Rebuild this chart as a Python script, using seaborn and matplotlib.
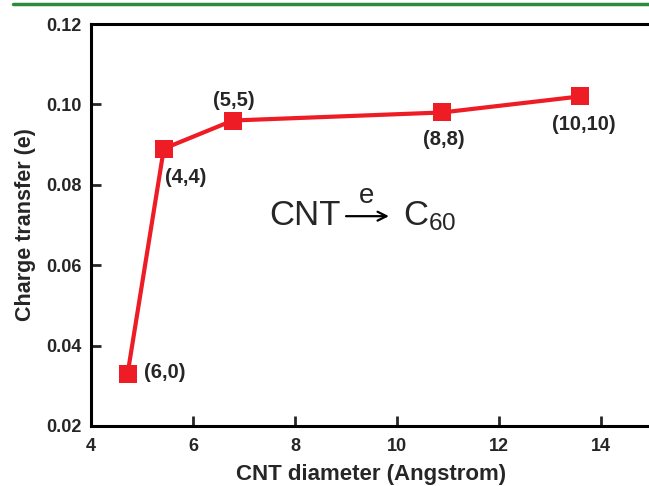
import matplotlib
matplotlib.use("Agg")
import matplotlib.pyplot as plt
import seaborn as sns
import pandas as pd
from matplotlib.lines import Line2D

# data
diameter = [4.72, 5.43, 6.78, 10.88, 13.59]
charge = [0.033, 0.089, 0.096, 0.098, 0.102]
labels = ["(6,0)", "(4,4)", "(5,5)", "(8,8)", "(10,10)"]
label_x = [5.04, 5.45, 6.80, 10.92, 13.65]
label_y = [0.0332, 0.0817, 0.1011, 0.0914, 0.0949]
label_ha = ["left", "left", "center", "center", "center"]

df = pd.DataFrame({"diameter": diameter, "charge": charge})

sns.set_style("ticks")
plt.rcParams["font.family"] = ["Liberation Sans", "DejaVu Sans"]
plt.rcParams["mathtext.fontset"] = "custom"
plt.rcParams["mathtext.rm"] = "Liberation Sans"
plt.rcParams["mathtext.it"] = "Liberation Sans"

fig = plt.figure(figsize=(6.49, 4.86), dpi=100)
ax = fig.add_axes([0.140, 0.1235, 0.865, 0.827])

sns.lineplot(data=df, x="diameter", y="charge", ax=ax, color="#ee1c24",
             linewidth=3, marker="s", markersize=12.5, markeredgewidth=0)

for t, x, y, ha in zip(labels, label_x, label_y, label_ha):
    ax.text(x, y, t, ha=ha, va="center", fontsize=14.5, fontweight="bold")

# CNT -e-> C60
ax.text(8.90, 0.0700, "CNT", ha="right", va="baseline", fontsize=25)
ax.annotate("", xy=(9.84, 0.0722), xytext=(9.0, 0.0722),
            arrowprops=dict(arrowstyle="->", lw=1.6, color="black",
                            mutation_scale=16, shrinkA=0, shrinkB=0))
ax.text(9.41, 0.0756, "e", ha="center", va="baseline", fontsize=20)
ax.text(10.12, 0.0700, "C$_{60}$", ha="left", va="baseline", fontsize=25)

ax.set_xlim(4, 15)
ax.set_ylim(0.02, 0.12)
ax.set_xticks([4, 6, 8, 10, 12, 14])
ax.set_yticks([0.02, 0.04, 0.06, 0.08, 0.10, 0.12])
ax.set_yticklabels(["0.02", "0.04", "0.06", "0.08", "0.10", "0.12"])
ax.tick_params(direction="in", length=7, width=2, labelsize=13)
ax.tick_params(axis="x", pad=9)
ax.tick_params(axis="y", pad=7)
for lab in ax.get_xticklabels() + ax.get_yticklabels():
    lab.set_fontweight("bold")
for sp in ax.spines.values():
    sp.set_linewidth(2.2)
    sp.set_color("black")
ax.set_xlabel("CNT diameter (Angstrom)", fontsize=16, fontweight="bold", labelpad=6)
ax.set_ylabel("Charge transfer (e)", fontsize=15.5, fontweight="bold", labelpad=7)

# green rule across the top
fig.add_artist(Line2D([0.02, 1.0], [0.991, 0.991], transform=fig.transFigure,
                      color="#2e8b3e", linewidth=2.5))

fig.savefig("out.png", dpi=100)
